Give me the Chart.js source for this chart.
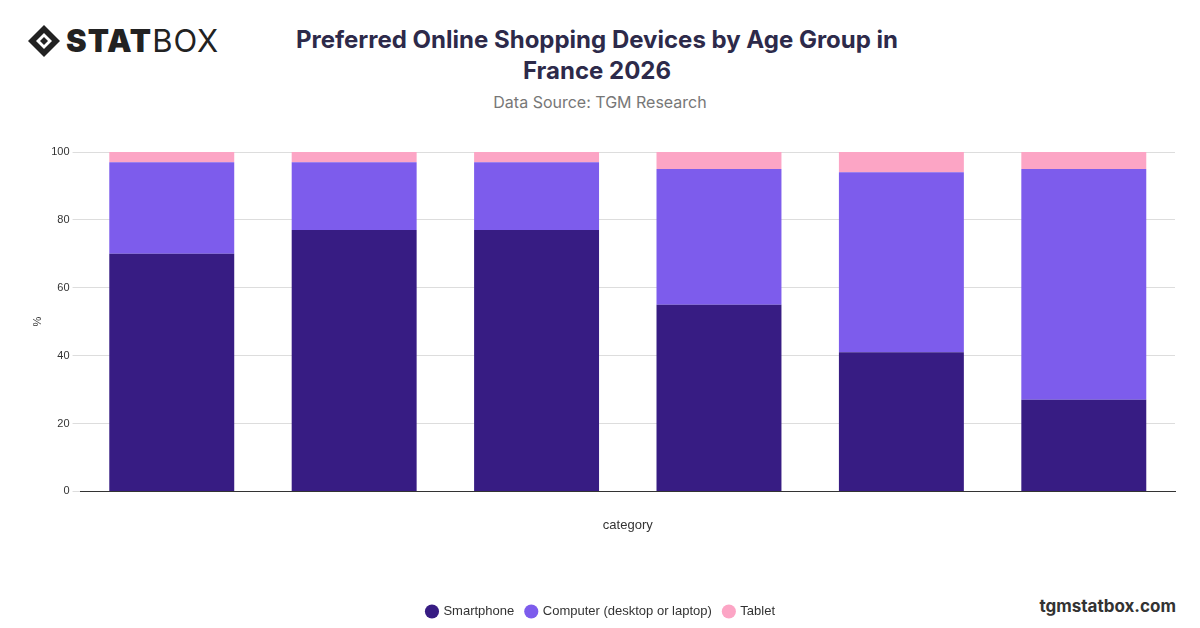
<!DOCTYPE html>
<html><head><meta charset="utf-8">
<script src="https://cdn.jsdelivr.net/npm/chart.js@4"></script>
<style>
body{margin:0;width:1200px;height:628px;background:#fff;font-family:Inter,"Noto Sans",sans-serif;position:relative;overflow:hidden}
#title{position:absolute;top:24px;left:277px;width:640px;text-align:center;font-weight:700;font-size:24px;line-height:31px;color:#2d2a4a}
#sub{position:absolute;top:92px;left:0;width:1200px;text-align:center;font-size:16px;color:#777}
#logo{position:absolute;top:22px;left:26px;font-size:31px;color:#222;display:flex;align-items:center;letter-spacing:1px}
#brand{position:absolute;top:596px;right:24px;font-weight:700;font-size:17px;color:#333}
#wrap{position:absolute;top:130px;left:0;width:1200px;height:498px}
</style></head><body>
<div id="logo"><svg width="36" height="36" viewBox="0 0 36 36"><path d="M18 2 L34 18 L18 34 L2 18Z" fill="#222"/><path d="M18 10 L26 18 L18 26 L10 18Z" fill="#fff"/><path d="M18 14 L22 18 L18 22 L14 18Z" fill="#222"/></svg><span style="font-weight:900;margin-left:4px">STAT</span><span style="font-weight:400">BOX</span></div>
<div id="title">Preferred Online Shopping Devices by Age Group in France 2026</div>
<div id="sub">Data Source: TGM Research</div>
<div id="brand">tgmstatbox.com</div>
<div id="wrap"><canvas id="c"></canvas></div>
<script>
const categories=["18-24","25-34","35-44","45-54","55-64","65+"];
const smartphone=[70,77,77,55,41,27];
const computer=[27,20,20,40,53,68];
const tablet=[3,3,3,5,6,5];
new Chart(document.getElementById('c'),{type:'bar',
data:{labels:categories,datasets:[
{label:'Smartphone',data:smartphone,backgroundColor:'#371c83'},
{label:'Computer (desktop or laptop)',data:computer,backgroundColor:'#7d5cec'},
{label:'Tablet',data:tablet,backgroundColor:'#fca5c5'}]},
options:{responsive:true,maintainAspectRatio:false,animation:false,
layout:{padding:{top:22,right:25,left:27,bottom:0}},
plugins:{legend:{position:'bottom',labels:{usePointStyle:true,pointStyle:'circle',boxWidth:10,boxHeight:10,padding:12,color:'#333',font:{size:13}}},title:{display:false}},
scales:{x:{stacked:true,grid:{display:false},border:{color:'#333'},ticks:{display:false},title:{display:true,text:'category',color:'#333',font:{size:13},padding:{top:18,bottom:60}}},
y:{stacked:true,min:0,max:100,ticks:{stepSize:20,color:'#333',font:{size:11}},grid:{color:'#ddd'},border:{display:false},title:{display:true,text:'%',color:'#333',font:{size:11}}}},
datasets:{bar:{categoryPercentage:0.685,barPercentage:1}}}});
</script></body></html>
